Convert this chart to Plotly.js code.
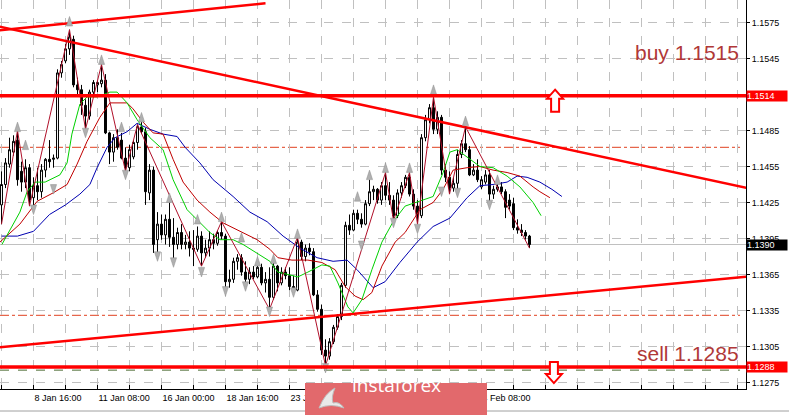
<!DOCTYPE html>
<html><head><meta charset="utf-8">
<script src="https://cdn.plot.ly/plotly-3.0.1.min.js"></script>
<style>html,body{margin:0;padding:0;background:#fff;}#chart{width:789px;height:415px;}</style>
</head><body><div id="chart"></div>
<script>
// ---- H4 EURUSD candles, bar index 8..140 (index 0 = 4 Jan 00:00) ----
const firstBar = 8;
const open = [1.1423,1.1440,1.1457,1.1467,1.1477,1.1451,1.1442,1.1454,1.1429,1.1439,
1.1434,1.1452,1.1461,1.1461,1.1462,1.1533,1.1543,1.1553,1.1561,1.1523,
1.1519,1.1506,1.1497,1.1517,1.1523,1.1524,1.1527,1.1483,1.1467,1.1479,
1.1477,1.1462,1.1454,1.1463,1.1475,1.1488,1.1484,1.1433,1.1452,1.1394,
1.1407,1.1398,1.1411,1.1396,1.1390,1.1400,1.1390,1.1392,1.1387,1.1386,
1.1397,1.1383,1.1387,1.1394,1.1391,1.1400,1.1397,1.1359,1.1361,1.1376,
1.1379,1.1367,1.1361,1.1367,1.1363,1.1371,1.1358,1.1361,1.1346,1.1372,
1.1358,1.1367,1.1364,1.1355,1.1352,1.1392,1.1380,1.1387,1.1384,1.1348,
1.1336,1.1302,1.1297,1.1309,1.1321,1.1330,1.1356,1.1406,1.1402,1.1416,
1.1411,1.1407,1.1424,1.1434,1.1436,1.1427,1.1439,1.1431,1.1427,1.1414,
1.1433,1.1439,1.1446,1.1432,1.1422,1.1414,1.1479,1.1494,1.1504,1.1486,
1.1496,1.1452,1.1446,1.1437,1.1441,1.1465,1.1474,1.1469,1.1448,1.1452,
1.1438,1.1442,1.1448,1.1432,1.1436,1.1438,1.1434,1.1427,1.1424,1.1404,
1.1402,1.1400,1.1397];
const high = [1.1451,1.1462,1.1479,1.1481,1.1485,1.1459,1.1461,1.1457,1.1446,1.1454,
1.1457,1.1462,1.1477,1.1465,1.1536,1.1543,1.1557,1.1569,1.1564,1.1529,
1.1523,1.1511,1.1519,1.1527,1.1527,1.1540,1.1532,1.1484,1.1482,1.1486,
1.1483,1.1471,1.1473,1.1477,1.1490,1.1492,1.1487,1.1457,1.1455,1.1417,
1.1415,1.1415,1.1425,1.1412,1.1404,1.1407,1.1398,1.1401,1.1402,1.1405,
1.1401,1.1394,1.1401,1.1399,1.1402,1.1409,1.1399,1.1369,1.1379,1.1382,
1.1382,1.1376,1.1371,1.1372,1.1376,1.1374,1.1367,1.1371,1.1376,1.1373,
1.1371,1.1371,1.1371,1.1364,1.1396,1.1394,1.1390,1.1391,1.1387,1.1352,
1.1340,1.1311,1.1312,1.1323,1.1332,1.1358,1.1409,1.1415,1.1419,1.1419,
1.1416,1.1427,1.1444,1.1439,1.1437,1.1442,1.1450,1.1442,1.1431,1.1436,
1.1442,1.1448,1.1450,1.1436,1.1427,1.1482,1.1498,1.1507,1.1513,1.1501,
1.1498,1.1457,1.1451,1.1446,1.1469,1.1477,1.1488,1.1472,1.1457,1.1461,
1.1447,1.1452,1.1452,1.1439,1.1442,1.1442,1.1436,1.1432,1.1429,1.1411,
1.1407,1.1402,1.1398];
const low = [1.1407,1.1437,1.1454,1.1464,1.1439,1.1434,1.1437,1.1422,1.1421,1.1427,
1.1429,1.1446,1.1454,1.1454,1.1461,1.1529,1.1541,1.1548,1.1521,1.1515,
1.1498,1.1486,1.1494,1.1514,1.1517,1.1521,1.1482,1.1457,1.1459,1.1469,
1.1461,1.1451,1.1451,1.1461,1.1469,1.1482,1.1423,1.1427,1.1383,1.1382,
1.1394,1.1390,1.1388,1.1377,1.1386,1.1386,1.1386,1.1380,1.1372,1.1384,
1.1372,1.1379,1.1380,1.1386,1.1389,1.1394,1.1352,1.1354,1.1358,1.1369,
1.1364,1.1357,1.1357,1.1361,1.1362,1.1356,1.1350,1.1336,1.1344,1.1351,
1.1356,1.1361,1.1352,1.1351,1.1351,1.1377,1.1376,1.1381,1.1347,1.1334,
1.1298,1.1289,1.1294,1.1307,1.1319,1.1327,1.1354,1.1398,1.1401,1.1407,
1.1404,1.1406,1.1422,1.1427,1.1424,1.1423,1.1427,1.1423,1.1410,1.1412,
1.1429,1.1437,1.1430,1.1419,1.1407,1.1412,1.1476,1.1491,1.1482,1.1482,
1.1448,1.1442,1.1432,1.1434,1.1434,1.1462,1.1467,1.1447,1.1447,1.1442,
1.1436,1.1440,1.1425,1.1428,1.1434,1.1432,1.1412,1.1419,1.1402,1.1399,
1.1397,1.1394,1.1387];
const close = [1.1440,1.1458,1.1469,1.1476,1.1444,1.1442,1.1454,1.1427,1.1439,1.1434,
1.1452,1.1461,1.1459,1.1462,1.1533,1.1540,1.1553,1.1563,1.1523,1.1519,
1.1506,1.1497,1.1517,1.1525,1.1525,1.1527,1.1483,1.1467,1.1479,1.1471,
1.1462,1.1454,1.1469,1.1475,1.1488,1.1484,1.1434,1.1452,1.1390,1.1407,
1.1398,1.1411,1.1396,1.1390,1.1400,1.1390,1.1392,1.1387,1.1386,1.1397,
1.1383,1.1387,1.1394,1.1391,1.1400,1.1397,1.1359,1.1361,1.1376,1.1379,
1.1367,1.1361,1.1367,1.1363,1.1371,1.1358,1.1361,1.1346,1.1372,1.1358,
1.1367,1.1364,1.1355,1.1352,1.1392,1.1380,1.1387,1.1384,1.1348,1.1336,
1.1302,1.1297,1.1309,1.1321,1.1330,1.1356,1.1406,1.1402,1.1416,1.1411,
1.1407,1.1424,1.1434,1.1436,1.1427,1.1439,1.1431,1.1427,1.1414,1.1433,
1.1439,1.1446,1.1432,1.1422,1.1414,1.1479,1.1494,1.1504,1.1486,1.1496,
1.1452,1.1446,1.1437,1.1441,1.1465,1.1474,1.1469,1.1448,1.1452,1.1444,
1.1444,1.1448,1.1432,1.1436,1.1438,1.1434,1.1421,1.1422,1.1404,1.1402,
1.1400,1.1397,1.1390];

// ---- time labels (bar index -> label) ----
const timeTickIdx = [0,16,32,48,64,80,96,112,128];
const timeTickText = ['4 Jan 00:00','8 Jan 16:00','11 Jan 08:00','16 Jan 00:00','18 Jan 16:00','23 Jan 08:00','28 Jan 00:00','30 Jan 16:00','4 Feb 08:00'];
const priceTicks = [1.1275,1.1305,1.1335,1.1365,1.1395,1.1425,1.1455,1.1485,1.1515,1.1545,1.1575];

// ---- Alligator lines ----
const jawX = [8,12,16,20,24,27.6,30.1,31.9,34.4,36.4,39.4,41.9,45.1,48.4,51.9,53.9,57.6,60.9,65.9,70.1,74.4,78.4,82.6,86.9,90.9,94.4,96.9,100.9,103.9,107.6,111.9,115.9,120.1,124.4,127.6,130.9,134.4,136.9,139.4,142.6,145.6,148.1];
const jawY = [1.1397,1.1397,1.1401,1.1415,1.1423,1.1432,1.1440,1.1454,1.1471,1.1479,1.1484,1.1491,1.1486,1.1482,1.1480,1.1471,1.1458,1.1444,1.1430,1.1417,1.1409,1.1397,1.1387,1.1379,1.1376,1.1377,1.1369,1.1354,1.1359,1.1375,1.1392,1.1405,1.1412,1.1429,1.1439,1.1440,1.1442,1.1447,1.1446,1.1442,1.1436,1.1430];
const teethX = [7.6,12.6,16.9,20.9,24.4,26.9,29.4,32.6,35.1,39.4,40.9,43.4,45.9,48.4,50.9,53.4,56.9,60.1,63.4,67.6,71.9,75.1,77.1,80.6,84.6,88.1,91.4,93.9,96.4,98.4,100.6,103.1,106.4,108.9,112.6,115.9,118.4,120.9,124.4,127.6,130.9,134.4,137.6,140.9,142.6,145.1];
const teethY = [1.1392,1.1407,1.1426,1.1433,1.1440,1.1457,1.1476,1.1496,1.1508,1.1508,1.1503,1.1492,1.1483,1.1482,1.1461,1.1442,1.1427,1.1417,1.1408,1.1401,1.1394,1.1386,1.1379,1.1377,1.1377,1.1375,1.1369,1.1355,1.1347,1.1344,1.1350,1.1372,1.1392,1.1400,1.1419,1.1425,1.1436,1.1452,1.1454,1.1455,1.1452,1.1450,1.1447,1.1438,1.1434,1.1429];
const lipsX = [8.1,12.6,14.4,16.4,18.9,22.6,24.4,25.6,27.6,29.4,31.9,35.1,36.9,39.4,41.9,45.1,48.4,50.9,54.4,56.9,60.1,62.6,65.9,68.4,71.9,75.1,77.1,82.1,84.6,88.1,90.1,92.1,94.6,95.9,98.1,100.6,103.1,105.9,108.9,112.6,115.9,118.4,120.1,121.9,124.4,127.6,130.9,134.4,137.6,140.9,142.9];
const lipsY = [1.1390,1.1417,1.1434,1.1442,1.1442,1.1448,1.1458,1.1482,1.1507,1.1513,1.1513,1.1517,1.1517,1.1508,1.1494,1.1479,1.1469,1.1444,1.1419,1.1411,1.1400,1.1394,1.1394,1.1390,1.1383,1.1376,1.1367,1.1363,1.1367,1.1373,1.1372,1.1358,1.1338,1.1333,1.1344,1.1369,1.1392,1.1409,1.1422,1.1426,1.1430,1.1450,1.1467,1.1469,1.1463,1.1455,1.1454,1.1447,1.1438,1.1425,1.1414];

// ---- ZigZag ----
const zigX = [8,12,15,25,29,33,39,42,58,63,75,82,89,104,106,110,112,116,120,124,140];
const zigY = [1.1407,1.1485,1.1422,1.1569,1.1486,1.1540,1.1451,1.1490,1.1372,1.1409,1.1336,1.1396,1.1289,1.1450,1.1410,1.1450,1.1407,1.1513,1.1432,1.1488,1.1387];

// ---- Fractals ----
const fracUpX = [12,14,25,33,38,43,50,57,63,68,72,76,82,97,100,104,110,116,124,132];
const fracUpY = [1.1492,1.1477,1.1580,1.1548,1.1492,1.1500,1.1433,1.1415,1.1417,1.1400,1.1380,1.1382,1.1403,1.1434,1.1452,1.1458,1.1458,1.1523,1.1497,1.1448];
const fracDnX = [16,21,29,39,47,51,58,64,69,75,81,89,98,106,112,118,122,130];
const fracDnY = [1.1415,1.1432,1.1479,1.1444,1.1376,1.1371,1.1363,1.1347,1.1351,1.1330,1.1346,1.1283,1.1385,1.1404,1.1399,1.1430,1.1429,1.1419];

// ---- Drawn objects ----
const trendDownX = [0,200], trendDownY = [1.1577,1.1433];
const trendTopX = [0,74], trendTopY = [1.1566,1.1591];
const trendLowX = [0,200], trendLowY = [1.1302,1.1365];
const solidLevels = [1.1514,1.1288];
const dashDotLevels = [1.1471,1.1331];
const greenLevel = 1.12853;
const bidPrice = 1.1390;
const signalIdx = [146.4,146.1];
const signalPrice = [1.1519,1.1292];
const signalDir = ['up','down'];
const signalText = ['buy 1.1515','sell 1.1285'];
const signalTextPrice = [1.1550,1.1299];

const xs = open.map((_, i) => firstBar + i);
const RED = '#ff0000';
const FONT = 'Liberation Sans, Arial, sans-serif';

const traces = [
  {type:'scatter', mode:'lines', x:trendTopX, y:trendTopY, line:{color:RED,width:2.5}, hoverinfo:'skip'},
  {type:'scatter', mode:'lines', x:trendDownX, y:trendDownY, line:{color:RED,width:2.5}, hoverinfo:'skip'},
  {type:'scatter', mode:'lines', x:trendLowX, y:trendLowY, line:{color:RED,width:2.5}, hoverinfo:'skip'},
  {type:'scatter', mode:'lines', x:jawX, y:jawY, line:{color:'#0000b0',width:1}, hoverinfo:'skip'},
  {type:'scatter', mode:'lines', x:teethX, y:teethY, line:{color:'#c00000',width:1}, hoverinfo:'skip'},
  {type:'scatter', mode:'lines', x:lipsX, y:lipsY, line:{color:'#00d000',width:1}, hoverinfo:'skip'},
  {type:'scatter', mode:'lines', x:zigX, y:zigY, line:{color:'#b0102a',width:1}, hoverinfo:'skip'},
  {type:'candlestick', x:xs, open:open, high:high, low:low, close:close,
   increasing:{line:{color:'#000',width:1}, fillcolor:'#fff'},
   decreasing:{line:{color:'#000',width:1}, fillcolor:'#000'},
   whiskerwidth:0, hoverinfo:'skip'},
  {type:'scatter', mode:'markers', x:fracUpX, y:fracUpY, marker:{symbol:'arrow', size:10, angle:0, color:'#b0b0b0', line:{color:'#8c8c8c',width:0.5}}, hoverinfo:'skip'},
  {type:'scatter', mode:'markers', x:fracDnX, y:fracDnY, marker:{symbol:'arrow', size:10, angle:180, color:'#b0b0b0', line:{color:'#8c8c8c',width:0.5}}, hoverinfo:'skip'}
];

const shapes = [];
solidLevels.forEach(p => shapes.push({type:'line', xref:'paper', x0:0, x1:1, yref:'y', y0:p, y1:p, line:{color:RED,width:3.5}, layer:'above'}));
dashDotLevels.forEach(p => shapes.push({type:'line', xref:'paper', x0:0, x1:0.992, yref:'y', y0:p, y1:p, line:{color:'#e04020',width:1,dash:'dashdot'}, layer:'below'}));
shapes.push({type:'line', xref:'paper', x0:0, x1:0.992, yref:'y', y0:greenLevel, y1:greenLevel, line:{color:'#4a6a30',width:1,dash:'dash'}, layer:'below'});
shapes.push({type:'line', xref:'paper', x0:0, x1:1, yref:'y', y0:bidPrice, y1:bidPrice, line:{color:'#c0c0c0',width:1}, layer:'below'});
signalIdx.forEach((xi, i) => {
  const path = signalDir[i] === 'up'
    ? 'M0,0 L8,-9 L4,-9 L4,-22 L-4,-22 L-4,-9 L-8,-9 Z'
    : 'M-4,0 L4,0 L4,-12 L8,-12 L0,-21 L-8,-12 L-4,-12 Z';
  shapes.push({type:'path', xref:'x', yref:'y', xsizemode:'pixel', ysizemode:'pixel', xanchor:xi, yanchor:signalPrice[i], path:path, fillcolor:'#fff', line:{color:RED,width:2}, layer:'above'});
});
// window bottom rule
shapes.push({type:'line', xref:'paper', yref:'paper', x0:0, x1:789/746, y0:-22/389, y1:-22/389, line:{color:'#a0a0a0',width:1}, layer:'above'});
// instaforex watermark box + icon
shapes.push({type:'rect', xref:'paper', yref:'paper', x0:305/746, x1:487/746, y0:-27/389, y1:6/389, fillcolor:'#e2696c', line:{width:0}, layer:'above'});
shapes.push({type:'path', xref:'paper', yref:'paper', xsizemode:'pixel', ysizemode:'pixel', xanchor:331/746, yanchor:-10/389,
  path:'M-12,-9 Q-6,6 4,11 Q0,2 2,-4 Q8,-2 13,-9 Q0,-4 -12,-9 Z', fillcolor:'#e9e9e9', line:{color:'#bdbdbd',width:1}, layer:'above'});

const annotations = [];
signalText.forEach((t, i) => annotations.push({x:1, xref:'paper', xanchor:'right', xshift:-5, y:signalTextPrice[i], yref:'y', text:t, showarrow:false, font:{family:FONT, size:21, color:'#b03838'}}));
const boxes = [[1.1514,RED],[1.1288,RED],[bidPrice,'#000']];
boxes.forEach(b => annotations.push({x:1, xref:'paper', xanchor:'left', xshift:0, y:b[0], yref:'y', text:b[0].toFixed(4), showarrow:false, bgcolor:b[1], width:40, height:10, align:'left', borderpad:0, font:{family:FONT, size:9, color:'#fff'}}));
annotations.push({x:396/746, xref:'paper', y:-10.5/389, yref:'paper', text:'instaforex', showarrow:false, font:{family:'Open Sans, sans-serif', size:19, color:'#fff'}});

const layout = {
  width:789, height:415,
  margin:{l:0, r:43, t:0, b:26, pad:0},
  paper_bgcolor:'#fff', plot_bgcolor:'#fff',
  showlegend:false, hovermode:false,
  xaxis:{type:'linear', range:[7.625,194.125], rangeslider:{visible:false},
    tickmode:'array', tickvals:timeTickIdx, ticktext:timeTickText,
    ticklabelposition:'outside right', ticklabeloverflow:'allow',
    tickfont:{family:FONT, size:9, color:'#000'},
    ticks:'inside', ticklen:4, tickcolor:'#000',
    showgrid:true, gridcolor:'#c0c0c0', griddash:'dash', gridwidth:1,
    minor:{tickmode:'linear', tick0:0, dtick:8, ticks:'inside', ticklen:4, tickcolor:'#000',
      showgrid:true, gridcolor:'#c0c0c0', griddash:'dash', gridwidth:1},
    showline:true, linecolor:'#000', linewidth:1, zeroline:false, fixedrange:true},
  yaxis:{side:'right', range:[1.126958,1.159375], tickmode:'array', tickvals:priceTicks,
    ticktext:priceTicks.map(v => v.toFixed(4)),
    ticks:'outside', ticklen:3, tickcolor:'#000',
    tickfont:{family:FONT, size:9, color:'#000'},
    showgrid:true, gridcolor:'#c0c0c0', griddash:'dash', gridwidth:1,
    showline:true, linecolor:'#000', linewidth:1, zeroline:false, fixedrange:true},
  shapes:shapes, annotations:annotations
};

Plotly.newPlot('chart', traces, layout, {staticPlot:true, displayModeBar:false});
</script></body></html>
